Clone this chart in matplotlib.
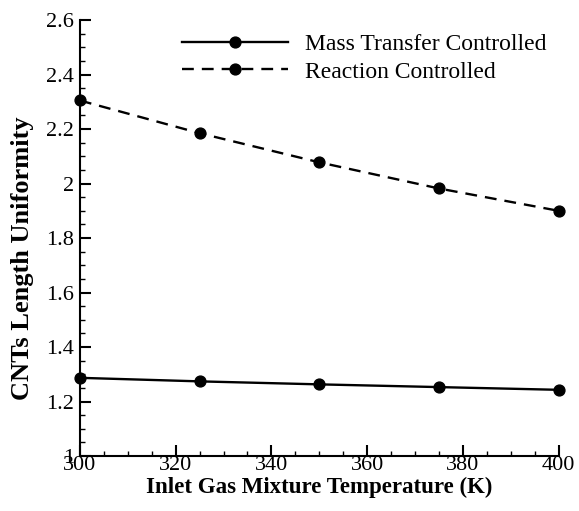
import matplotlib
matplotlib.use("Agg")
import matplotlib.pyplot as plt
from matplotlib.ticker import MultipleLocator

temperature = [300, 325, 350, 375, 400]
mass_transfer = [1.287, 1.274, 1.263, 1.253, 1.243]
reaction = [2.305, 2.185, 2.078, 1.982, 1.900]
x_label = "Inlet Gas Mixture Temperature (K)"
y_label = "CNTs Length Uniformity"
legend_labels = ["Mass Transfer Controlled", "Reaction Controlled"]

plt.rcParams['font.family'] = ['Liberation Serif', 'DejaVu Serif']

fig = plt.figure(figsize=(5.79, 5.11), dpi=100)
ax = fig.add_axes([0.138, 0.1076, 0.827, 0.853])

ax.plot(temperature, mass_transfer, color='black', lw=1.7, marker='o',
        markersize=7.8, label=legend_labels[0], clip_on=False, zorder=3)
ax.plot(temperature, reaction, color='black', lw=1.7, marker='o',
        markersize=7.8, dashes=(5.0, 3.4), label=legend_labels[1], clip_on=False, zorder=3)

ax.set_xlim(300, 400)
ax.set_ylim(1, 2.6)
ax.xaxis.set_major_locator(MultipleLocator(20))
ax.xaxis.set_minor_locator(MultipleLocator(5))
ax.yaxis.set_major_locator(MultipleLocator(0.2))
ax.yaxis.set_minor_locator(MultipleLocator(0.05))
ax.yaxis.set_major_formatter(matplotlib.ticker.FuncFormatter(lambda v, p: f"{v:.1f}".rstrip('0').rstrip('.')))

for s in ['top', 'right']:
    ax.spines[s].set_visible(False)
for s in ['left', 'bottom']:
    ax.spines[s].set_linewidth(1.5)

ax.tick_params(which='major', direction='in', length=8, width=1.5, labelsize=16)
ax.tick_params(which='minor', direction='in', length=3.5, width=1.0)
ax.tick_params(axis='x', which='major', pad=0)
ax.tick_params(axis='y', which='major', pad=4)

ax.set_xlabel(x_label, fontsize=16.5, fontweight='bold', labelpad=1)
ax.set_ylabel(y_label, fontsize=19, fontweight='bold', va='center')
ax.yaxis.set_label_coords(-0.119, 0.454)

ax.legend(loc='upper left', bbox_to_anchor=(0.213, 0.969), frameon=False, fontsize=17,
          handlelength=4.5, handletextpad=0.7, labelspacing=0.25, borderpad=0,
          borderaxespad=0)

fig.savefig("out.png", dpi=100)
